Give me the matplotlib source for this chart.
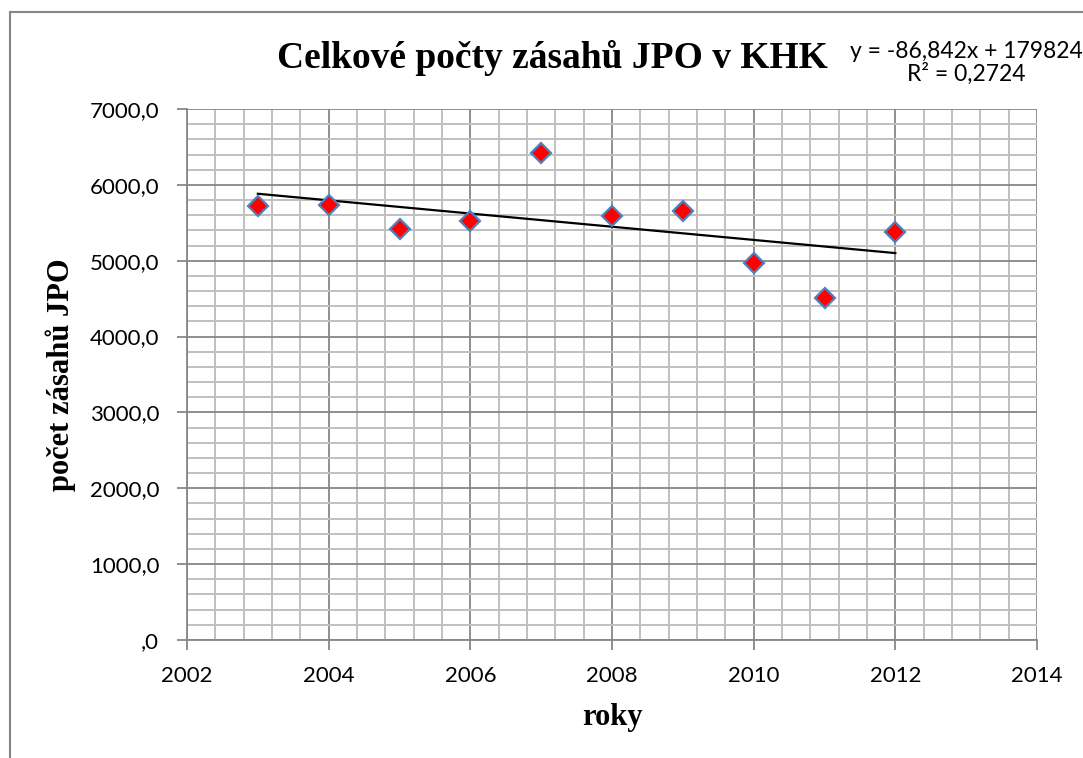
import numpy as np
import matplotlib
matplotlib.use('Agg')
import matplotlib.pyplot as plt
from matplotlib.patches import Rectangle
from matplotlib.ticker import MultipleLocator

# Data
years = [2003, 2004, 2005, 2006, 2007, 2008, 2009, 2010, 2011, 2012]
zasahy = [5721, 5734, 5418, 5523, 6420, 5589, 5655, 4970, 4508, 5378]

y_ticks = [0, 1000, 2000, 3000, 4000, 5000, 6000, 7000]
y_tick_labels = [',0', '1000,0', '2000,0', '3000,0', '4000,0', '5000,0', '6000,0', '7000,0']
x_ticks = [2002, 2004, 2006, 2008, 2010, 2012, 2014]

title = 'Celkové počty zásahů JPO v KHK'
eq_line1 = 'y = -86,842x + 179824'
eq_line2 = 'R² = 0,2724'

serif = 'Liberation Serif'
sans = 'Lato'

W, H = 1083, 758
fig = plt.figure(figsize=(W / 100, H / 100), dpi=100)
fig.patch.set_facecolor('white')

# outer chart frame (only left and top visible in the crop)
fig.add_artist(Rectangle((10 / W, -0.05), 1.2, 1 - 12 / H + 0.05,
                         transform=fig.transFigure, fill=False,
                         edgecolor='#868686', linewidth=1.5))

ax = fig.add_axes([187 / W, 1 - 640 / H, 850 / W, 531 / H])
ax.set_xlim(2002, 2014)
ax.set_ylim(0, 7000)

ax.xaxis.set_minor_locator(MultipleLocator(0.4))
ax.yaxis.set_minor_locator(MultipleLocator(200))

ax.grid(which='minor', color='#c0c0c0', linewidth=1.4)
ax.grid(which='major', color='#878787', linewidth=1.3)
ax.set_axisbelow(True)

for side in ['top', 'right']:
    ax.spines[side].set_visible(False)
for side in ['left', 'bottom']:
    ax.spines[side].set_color('#878787')
    ax.spines[side].set_linewidth(1.3)

ax.set_yticks(y_ticks)
ax.set_yticklabels(y_tick_labels, fontname=sans, fontsize=16)
ax.set_xticks(x_ticks)
ax.set_xticklabels([str(x) for x in x_ticks], fontname=sans, fontsize=16)
ax.tick_params(which='major', length=7, width=1.3, color='#878787')
ax.tick_params(axis='y', pad=13)
ax.tick_params(axis='x', pad=12)
ax.tick_params(which='minor', length=0)

# linear trend
coef = np.polyfit(years, zasahy, 1)
tx = np.array([years[0], years[-1]])
ax.plot(tx, np.polyval(coef, tx), color='black', linewidth=1.6, zorder=3)

ax.plot(years, zasahy, linestyle='none', marker='D', markersize=10,
        markerfacecolor='#ff0000', markeredgecolor='#4f81bd',
        markeredgewidth=1.6, zorder=4, clip_on=False)

ax.set_xlabel('roky', fontname=serif, fontweight='bold', fontsize=22, labelpad=12)
ax.set_ylabel('počet zásahů JPO', fontname=serif, fontweight='bold', fontsize=22, labelpad=10)

fig.text(552 / W, 1 - 68 / H, title, fontname=serif, fontweight='bold',
         fontsize=27, ha='center', va='baseline')
fig.text(966 / W, 1 - 52 / H, eq_line1, fontname=sans, fontsize=16.5,
         ha='center', va='center')
fig.text(966 / W, 1 - 74 / H, eq_line2, fontname=sans, fontsize=16.5,
         ha='center', va='center')

fig.savefig('out.png', dpi=100)
